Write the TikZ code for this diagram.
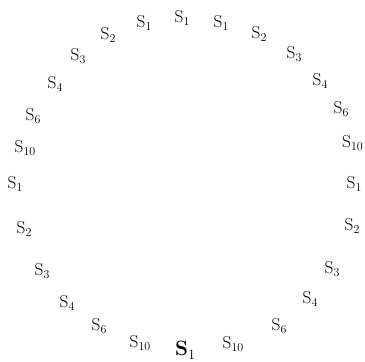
\documentclass[tikz,border=0pt]{standalone}
\usepackage{amsmath,amssymb}
\usepackage{tikz}

\begin{document}
\begin{tikzpicture}[x=1pt,y=1pt,
  lbl/.style={anchor=base west,inner sep=0pt,font=\fontsize{17}{19}\selectfont}]
  \useasboundingbox (0,0) rectangle (365,362);
  % clockwise from the top
  \foreach \x/\y/\k [count=\i] in {174.5/339/1, 213.5/334/1, 251.5/323/2, 286.5/303/3,
      312.5/276/4, 333.5/248/6, 342/214/10, 346.5/173/1, 344.5/131/2, 324.5/88/3,
      302.5/58/4, 271.5/31/6, 222.5/13/10,
      129.5/14/10, 91.5/31/6, 59.5/54/4, 34.5/86/3, 16.5/128/2, 7.5/173/1,
      14.5/209/10, 25.5/241/6, 47.5/273/4, 70.5/301/3, 100.5/322/2, 136.5/334/1}
    \node[lbl] (s\i) at (\x,\y) {$\mathrm{S}_{\k}$};
  \node[lbl,font=\fontsize{22}{25}\selectfont] (s0) at (175,6) {$\mathbf{S}_1$};
\end{tikzpicture}
\end{document}
